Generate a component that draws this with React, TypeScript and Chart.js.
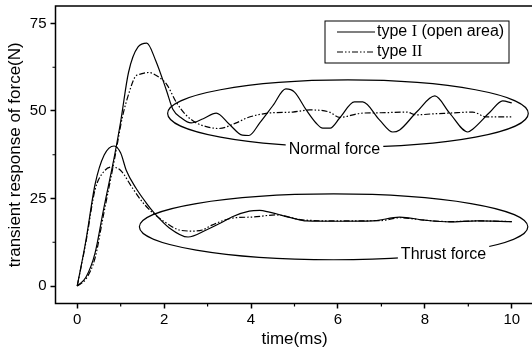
import React, { useEffect, useRef } from "react";
import { Chart, registerables } from "chart.js";

Chart.register(...registerables);

// ---- data (time in ms, force in N) ----
const normalTimeI = [0, 0.2, 0.41, 0.6, 0.87, 1.0, 1.18, 1.4, 1.6, 1.8, 2.05, 2.2, 2.4, 2.62, 2.9, 3.2, 3.5, 3.8, 3.95, 4.2, 4.5, 4.8, 5.0, 5.27, 5.5, 5.65, 5.82, 6.04, 6.38, 6.57, 6.96, 7.26, 7.42, 7.81, 8.23, 8.57, 8.99, 9.1, 9.5, 9.79, 10.0];
const normalTypeI = [0, 2.5, 9.4, 21.5, 38, 47, 61, 68.3, 69.4, 64.6, 56, 50.5, 48, 46.6, 47.8, 49.4, 46.2, 43.1, 43, 46.6, 51.5, 56.3, 55.4, 50.3, 46.5, 45.1, 45.1, 48, 52.6, 52.6, 47.4, 44, 44.6, 49.7, 54.3, 49.4, 44, 44.8, 49.7, 52.9, 52.3];

const normalTimeII = [0, 0.2, 0.41, 0.6, 0.87, 1.04, 1.2, 1.33, 1.47, 1.65, 1.8, 1.96, 2.07, 2.28, 2.5, 2.74, 2.95, 3.25, 3.66, 3.9, 4.4, 4.96, 5.35, 5.8, 6.04, 6.57, 7.0, 7.58, 7.8, 8.2, 8.57, 9.1, 9.42, 10.0];
const normalTypeII = [0, 2, 8, 20, 37, 48.3, 55.5, 59.7, 60.6, 61, 60.3, 58.9, 57.4, 52.5, 48.9, 46.6, 45.6, 45, 46.6, 48, 49.4, 49.7, 50.3, 49.7, 48.2, 49.4, 49.5, 49.7, 48.9, 49.2, 49.4, 49.7, 48.3, 48.3];

const thrustTimeI = [0, 0.2, 0.41, 0.62, 0.85, 1.0, 1.13, 1.35, 1.59, 1.77, 2.12, 2.55, 2.97, 3.3, 3.57, 3.96, 4.2, 4.42, 4.96, 5.27, 6.0, 6.8, 7.42, 8.0, 8.57, 9.2, 10.0];
const thrustTypeI = [0, 13, 29, 37.4, 40, 38, 33, 28, 23.7, 20.9, 16.6, 14, 16, 18, 19.8, 21.4, 21.6, 21.1, 19.4, 18.6, 18.5, 18.6, 19.7, 18.8, 18.3, 18.6, 18.4];

const thrustTimeII = [0, 0.2, 0.41, 0.6, 0.8, 1.0, 1.27, 1.5, 1.73, 2.05, 2.35, 2.65, 2.88, 3.1, 3.57, 4.03, 4.58, 5.18, 6.0, 7.0, 7.42, 8.0, 8.57, 9.2, 10.0];
const thrustTypeII = [0, 12.5, 27.5, 32.5, 34, 33, 28, 24, 21, 18, 16, 15.7, 16, 17.4, 19.4, 19.7, 20.3, 18.9, 18.6, 18.7, 19.5, 18.8, 18.4, 18.6, 18.4];

const xMajorTicks = [0, 2, 4, 6, 8, 10];
const yMajorTicks = [0, 25, 50, 75];
const xMinorTicks = [1, 3, 5, 7, 9];
const yMinorTicks = [12.5, 37.5, 62.5];

// group annotations (in data units)
const groupLabels = ["Normal force", "Thrust force"];
const groupEllipses = [
  { cx: 6.23, cy: 49.3, rx: 4.15, ry: 9.57, lx: 5.92, ly: 39.1 },
  { cx: 5.9, cy: 16.9, rx: 4.47, ry: 9.4, lx: 8.43, ly: 8.9 },
];

const SANS = "'Liberation Sans', Arial, Helvetica, sans-serif";
const SERIF = "'Liberation Serif', 'Times New Roman', serif";
const DASH = [6, 2, 1.5, 2, 1.5, 2];

const pts = (xs: number[], ys: number[]) => xs.map((x, i) => ({ x, y: ys[i] }));

const overlayPlugin = {
  id: "overlay",
  afterDatasetsDraw(chart: any) {
    const { ctx, scales } = chart;
    const x = scales.x;
    const y = scales.y;
    ctx.save();
    groupEllipses.forEach((e, i) => {
      const cx = x.getPixelForValue(e.cx);
      const cy = y.getPixelForValue(e.cy);
      const rx = Math.abs(x.getPixelForValue(e.cx + e.rx) - cx);
      const ry = Math.abs(y.getPixelForValue(e.cy + e.ry) - cy);
      ctx.beginPath();
      ctx.ellipse(cx, cy, rx, ry, 0, 0, Math.PI * 2);
      ctx.lineWidth = 1.2;
      ctx.strokeStyle = "#000";
      ctx.setLineDash([]);
      ctx.stroke();
      ctx.font = `16px ${SANS}`;
      const lx = x.getPixelForValue(e.lx);
      const ly = y.getPixelForValue(e.ly);
      const w = ctx.measureText(groupLabels[i]).width;
      ctx.fillStyle = "#fff";
      ctx.fillRect(lx - w / 2 - 3, ly - 9, w + 6, 18);
      ctx.fillStyle = "#000";
      ctx.textAlign = "center";
      ctx.textBaseline = "middle";
      ctx.fillText(groupLabels[i], lx, ly);
    });
    ctx.restore();
  },
  afterDraw(chart: any) {
    const { ctx, chartArea, scales } = chart;
    const x = scales.x;
    const y = scales.y;
    const { left, right, top, bottom } = chartArea;
    ctx.save();
    ctx.strokeStyle = "#000";
    ctx.lineWidth = 1.5;
    ctx.setLineDash([]);
    ctx.strokeRect(left, top, right - left, bottom - top);
    ctx.lineWidth = 1.2;
    ctx.beginPath();
    xMinorTicks.forEach((v) => {
      const px = x.getPixelForValue(v);
      ctx.moveTo(px, bottom);
      ctx.lineTo(px, bottom + 3);
    });
    yMinorTicks.forEach((v) => {
      const py = y.getPixelForValue(v);
      ctx.moveTo(left, py);
      ctx.lineTo(left - 3, py);
    });
    ctx.stroke();

    // legend box
    const bx = left + 269.5;
    const by = top + 15;
    const bw = 184;
    const bh = 42;
    ctx.fillStyle = "#fff";
    ctx.fillRect(bx, by, bw, bh);
    ctx.lineWidth = 1;
    ctx.strokeRect(bx, by, bw, bh);
    const rows = [
      { dash: [] as number[], parts: [["type ", SANS], ["I", SERIF], [" (open area)", SANS]] },
      { dash: DASH, parts: [["type ", SANS], ["II", SERIF]] },
    ];
    rows.forEach((r, i) => {
      const ry = by + 11 + i * 20;
      ctx.beginPath();
      ctx.setLineDash(r.dash);
      ctx.lineWidth = 1.2;
      ctx.moveTo(bx + 12, ry);
      ctx.lineTo(bx + 50, ry);
      ctx.stroke();
      ctx.setLineDash([]);
      let tx = bx + 52;
      ctx.fillStyle = "#000";
      ctx.textAlign = "left";
      ctx.textBaseline = "middle";
      r.parts.forEach(([t, f]) => {
        ctx.font = `16px ${f}`;
        ctx.fillText(t, tx, ry);
        tx += ctx.measureText(t).width;
      });
    });
    ctx.restore();
  },
};

export default function App() {
  const ref = useRef<HTMLCanvasElement>(null);
  useEffect(() => {
    const line = (label: string, data: any[], dash: number[]) => ({
      label,
      data,
      borderColor: "#000",
      backgroundColor: "#000",
      borderWidth: 1.2,
      borderDash: dash,
      pointRadius: 0,
      fill: false,
      cubicInterpolationMode: "monotone" as const,
    });
    const chart = new Chart(ref.current!, {
      type: "line",
      data: {
        datasets: [
          line("Normal type I", pts(normalTimeI, normalTypeI), []),
          line("Normal type II", pts(normalTimeII, normalTypeII), DASH),
          line("Thrust type I", pts(thrustTimeI, thrustTypeI), []),
          line("Thrust type II", pts(thrustTimeII, thrustTypeII), DASH),
        ],
      },
      options: {
        responsive: false,
        animation: false,
        devicePixelRatio: 1,
        layout: { padding: { top: 6, right: 6.5, left: 0, bottom: 0 } },
        plugins: { legend: { display: false }, tooltip: { enabled: false } },
        scales: {
          x: {
            type: "linear",
            min: -0.5,
            max: 10.5,
            afterBuildTicks: (s: any) => {
              s.ticks = xMajorTicks.map((v) => ({ value: v }));
            },
            afterFit: (s: any) => {
              s.height = 44.5;
              s.paddingLeft = 0;
              s.paddingRight = 0;
            },
            border: { display: false },
            grid: {
              drawOnChartArea: false,
              drawTicks: true,
              tickLength: 5,
              tickWidth: 1.5,
              tickColor: "#000",
            },
            ticks: {
              autoSkip: false,
              maxRotation: 0,
              padding: 2,
              color: "#000",
              font: { size: 15, family: SANS },
            },
            title: {
              display: true,
              text: "time(ms)",
              color: "#000",
              font: { size: 17, family: SANS },
              padding: { top: 0, bottom: -2 },
            },
          },
          y: {
            type: "linear",
            min: -5,
            max: 80,
            afterBuildTicks: (s: any) => {
              s.ticks = yMajorTicks.map((v) => ({ value: v }));
            },
            afterFit: (s: any) => {
              s.width = 55.5;
              s.paddingTop = 0;
              s.paddingBottom = 0;
            },
            border: { display: false },
            grid: {
              drawOnChartArea: false,
              drawTicks: true,
              tickLength: 5,
              tickWidth: 1.5,
              tickColor: "#000",
            },
            ticks: {
              autoSkip: false,
              padding: 4,
              color: "#000",
              font: { size: 15, family: SANS },
            },
            title: {
              display: true,
              text: "transient response of force(N)",
              color: "#000",
              font: { size: 17, family: SANS },
              padding: { top: 5, bottom: 0 },
            },
          },
        },
      },
      plugins: [overlayPlugin],
    });
    return () => chart.destroy();
  }, []);
  return (
    <div
      style={{
        position: "fixed",
        left: 0,
        top: 0,
        width: 532,
        height: 348,
        overflow: "hidden",
        background: "#fff",
      }}
    >
      <canvas ref={ref} width={540} height={348} style={{ width: 540, height: 348, display: "block" }} />
    </div>
  );
}
